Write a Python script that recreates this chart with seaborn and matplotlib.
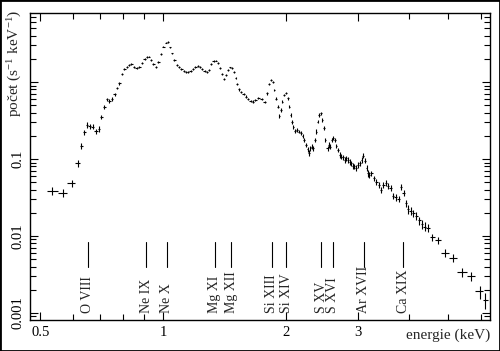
import numpy as np
import matplotlib
matplotlib.use("Agg")
import matplotlib.pyplot as plt
from matplotlib.patches import Rectangle
from matplotlib.ticker import FixedLocator, NullFormatter, LogLocator
import seaborn as sns

# spektrum: energie (keV) a pocet (s^-1 keV^-1)
energie = [
    0.535, 0.568, 0.598, 0.618, 0.631, 0.641, 0.651, 0.662, 0.672, 0.686,
    0.696, 0.706, 0.717, 0.729, 0.739, 0.750, 0.761, 0.771, 0.782, 0.793,
    0.804, 0.815, 0.826, 0.836, 0.849, 0.862, 0.875, 0.888, 0.902, 0.915,
    0.926, 0.935, 0.947, 0.960, 0.974, 0.987, 1.002, 1.015, 1.029, 1.040,
    1.052, 1.066, 1.080, 1.094, 1.109, 1.124, 1.138, 1.153, 1.169, 1.184,
    1.200, 1.216, 1.232, 1.248, 1.265, 1.282, 1.299, 1.313, 1.331, 1.348,
    1.364, 1.379, 1.398, 1.413, 1.429, 1.445, 1.462, 1.479, 1.493, 1.507,
    1.520, 1.535, 1.555, 1.576, 1.596, 1.618, 1.640, 1.662, 1.684, 1.709,
    1.745, 1.777, 1.802, 1.819, 1.839, 1.857, 1.874, 1.892, 1.910, 1.928,
    1.947, 1.961, 1.984, 2.003, 2.022, 2.040, 2.057, 2.072, 2.087, 2.107,
    2.130, 2.154, 2.178, 2.199, 2.219, 2.240, 2.261, 2.278, 2.295, 2.317,
    2.334, 2.356, 2.373, 2.392, 2.413, 2.436, 2.459, 2.477, 2.500, 2.530,
    2.548, 2.566, 2.590, 2.614, 2.637, 2.661, 2.685, 2.711, 2.735, 2.760,
    2.787, 2.813, 2.838, 2.865, 2.892, 2.918, 2.946, 2.974, 3.000, 3.040,
    3.068, 3.095, 3.124, 3.153, 3.181, 3.199, 3.242, 3.283, 3.334, 3.377,
    3.421, 3.468, 3.514, 3.561, 3.611, 3.665, 3.716, 3.789, 3.834, 3.886,
    3.941, 3.988, 4.043, 4.109, 4.173, 4.249, 4.311, 4.380, 4.452, 4.564,
    4.710, 4.915, 5.128, 5.410, 5.681, 5.966, 6.170,
]
pocet = [
    0.0384, 0.0365, 0.0483, 0.088, 0.149, 0.222, 0.277, 0.266, 0.263, 0.229,
    0.245, 0.351, 0.474, 0.596, 0.566, 0.601, 0.692, 0.836, 0.96, 1.26,
    1.47, 1.58, 1.66, 1.70, 1.57, 1.53, 1.58, 1.75, 1.97, 2.11,
    2.14, 1.93, 1.70, 1.58, 1.82, 2.31, 2.87, 3.24, 3.30, 2.82,
    2.36, 1.93, 1.65, 1.55, 1.48, 1.40, 1.36, 1.35, 1.39, 1.48,
    1.58, 1.63, 1.55, 1.46, 1.38, 1.34, 1.43, 1.70, 1.87, 1.89,
    1.75, 1.51, 1.27, 1.10, 1.23, 1.43, 1.55, 1.53, 1.36, 1.12,
    0.94, 0.80, 0.74, 0.70, 0.645, 0.60, 0.566, 0.555, 0.58, 0.614,
    0.596, 0.555, 0.71, 0.94, 1.06, 1.01, 0.79, 0.61, 0.478, 0.362,
    0.433, 0.555, 0.678, 0.726, 0.614, 0.478, 0.373, 0.305, 0.263, 0.233,
    0.238, 0.227, 0.216, 0.199, 0.177, 0.152, 0.134, 0.119, 0.138, 0.145,
    0.138, 0.177, 0.227, 0.305, 0.373, 0.392, 0.321, 0.25, 0.177, 0.138,
    0.152, 0.145, 0.177, 0.19, 0.177, 0.148, 0.131, 0.113, 0.107, 0.105,
    0.097, 0.102, 0.097, 0.092, 0.088, 0.081, 0.080, 0.076, 0.0837, 0.088,
    0.097, 0.110, 0.095, 0.076, 0.065, 0.062, 0.065, 0.0563, 0.0508, 0.046,
    0.0397, 0.046, 0.049, 0.0444, 0.0418, 0.0331, 0.0318, 0.0302, 0.043, 0.0361,
    0.0266, 0.0222, 0.0212, 0.0198, 0.0182, 0.0159, 0.0142, 0.0132, 0.0128, 0.0096,
    0.0089, 0.0060, 0.0052, 0.0034, 0.0030, 0.0019, 0.00146,
]

# cary a jejich popisky
cary_E = [0.654, 0.910, 1.022, 1.340, 1.468, 1.845, 2.005, 2.440, 2.605, 3.105, 3.880]
cary_popis = ["O VIII", "Ne IX", "Ne X", "Mg XI", "Mg XII", "Si XIII", "Si XIV",
              "S XV", "S XVI", "Ar XVII", "Ca XIX"]

expozice = 60000.0  # s, jen pro chybove usecky z poctu fotonu

E = np.array(energie)
C = np.array(pocet)
d = np.diff(E)
lo = np.r_[d[0], d] / 2
hi = np.r_[d, d[-1]] / 2
rel = 1 / np.sqrt(C * (lo + hi) * expozice)
yerr = [C * np.minimum(rel, 0.6), C * rel]

sns.set_style("ticks")
plt.rcParams["font.family"] = ["Liberation Serif", "DejaVu Serif"]
plt.rcParams["mathtext.fontset"] = "custom"
plt.rcParams["mathtext.rm"] = "Liberation Serif"
plt.rcParams["mathtext.it"] = "Liberation Serif:italic"

fig = plt.figure(figsize=(5.0, 3.51), dpi=100)
ax = fig.add_axes([0.06, 0.0883, 0.92, 0.875])

ax.errorbar(E, C, xerr=[lo, hi], yerr=yerr, fmt="none", ecolor="black",
            elinewidth=0.8, capsize=0)

ax.set_xscale("log")
ax.set_yscale("log")
ax.set_xlim(0.472, 6.33)
ax.set_ylim(0.00081, 7.9)

ax.xaxis.set_major_locator(FixedLocator([0.5, 1, 2, 3]))
ax.xaxis.set_minor_locator(FixedLocator([0.6, 0.7, 0.8, 0.9, 4, 5, 6]))
ax.set_xticklabels(["0.5", "1", "2", "3"])
ax.xaxis.set_minor_formatter(NullFormatter())

# popisek "1" na ose y chybi, je tam nazev osy
ax.yaxis.set_major_locator(FixedLocator([0.001, 0.01, 0.1, 1]))
ax.yaxis.set_minor_locator(LogLocator(base=10, subs=np.arange(2, 10)))
ax.yaxis.set_minor_formatter(NullFormatter())
ax.set_yticklabels(["0.001", "0.01", "0.1", ""], rotation=90, va="center")

ax.tick_params(which="both", direction="in", top=True, right=True,
               colors="black", labelsize=10.5, width=0.8)
ax.tick_params(which="major", length=6, pad=4)
ax.tick_params(which="minor", length=4)
for s in ax.spines.values():
    s.set_color("black")
    s.set_linewidth(1.0)

trans = ax.get_xaxis_transform()
for x, t in zip(cary_E, cary_popis):
    ax.plot([x, x], [0.173, 0.254], transform=trans, color="black", lw=0.8)
    ax.text(x, 0.022, t, transform=trans, rotation=90, ha="center", va="bottom",
            fontsize=10)

fig.text(0.98, 0.045, "energie (keV)", ha="right", va="center", fontsize=11)
fig.text(0.03, 0.972, r"počet (s$^{-1}$ keV$^{-1}$)", rotation=90, ha="center",
         va="top", fontsize=11)

fig.patches.append(Rectangle((0, 0), 1, 1, transform=fig.transFigure, fill=False,
                             ec="black", lw=2))

fig.savefig("out.png", dpi=100, facecolor="white")
